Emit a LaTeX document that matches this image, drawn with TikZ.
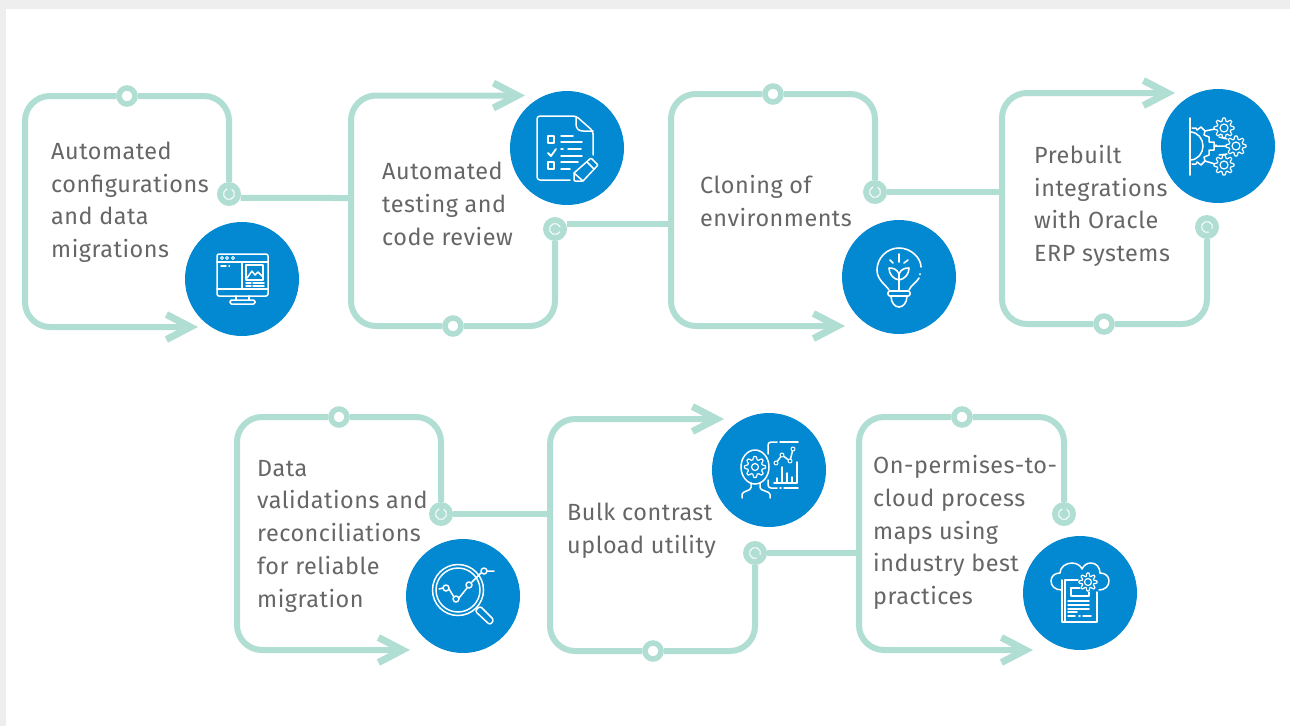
\documentclass[tikz,border=0pt]{standalone}
\usepackage{fontspec}
\usepackage{tikz}
\usetikzlibrary{arrows.meta,backgrounds}
\setmainfont{Fira Sans}[LetterSpace=2.2]
\definecolor{trackc}{HTML}{B0DED3}
\definecolor{bluec}{HTML}{0388D2}
\definecolor{textc}{HTML}{666666}
\definecolor{bandc}{HTML}{EEEEEE}
\tikzset{
  x=1pt,y=-1pt,
  track/.style={draw=trackc,line width=6pt,rounded corners=25pt},
  tracktip/.style={track,-{Straight Barb[length=24pt,width=25pt,line width=7pt]}},
  link/.style={draw=trackc,line width=6pt},
  midnode/.style={circle,draw=trackc,fill=white,line width=5.5pt,minimum size=16pt,inner sep=0pt},
  endnode/.style={circle,fill=trackc,minimum size=24pt,inner sep=0pt},
  iconcircle/.style={circle,fill=bluec,minimum size=114pt,inner sep=0pt},
  label/.style={anchor=base west,align=left,inner sep=0pt,text=textc,font=\fontsize{23.4}{32.7}\selectfont},
  ic/.style={draw=white,line width=1.5pt,line cap=round,line join=round},
}
\newcommand{\ringmark}[3]{\draw[white,line width=1pt] (#1,#2) ++(#3:5.5pt) arc[start angle=#3,delta angle=310,radius=5.5pt];}
\newcommand{\gearmark}[5]{% x y r teeth inner
  \draw[ic,line width=1.2pt] plot[samples=#4*8+1,domain=0:360,variable=\t] ({#1+(#3+1.5*min(1,max(-1,2.2*cos(#4*\t))))*cos(\t)},{#2+(#3+1.5*min(1,max(-1,2.2*cos(#4*\t))))*sin(\t)});
  \draw[ic,line width=1.2pt] (#1,#2) circle[radius=#5pt];}
\begin{document}
\begin{tikzpicture}
\useasboundingbox (0,0) rectangle (1290,726);
% nodes
\node[endnode] (t1) at (229,194) {};
\node[endnode] (t2) at (555,229) {};
\node[endnode] (t3) at (875,192) {};
\node[endnode] (t4) at (1207,227) {};
\node[endnode] (t5) at (441,514) {};
\node[endnode] (t6) at (755,553) {};
\node[endnode] (t7) at (1064,514) {};
\node[midnode] (n1) at (127,96) {};
\node[midnode] (n2) at (453,326) {};
\node[midnode] (n3) at (773,94) {};
\node[midnode] (n4) at (1104,324) {};
\node[midnode] (n5) at (339,417) {};
\node[midnode] (n6) at (653,651) {};
\node[midnode] (n7) at (962,417) {};
\node[iconcircle] (c1) at (242,279) {};
\node[iconcircle] (c2) at (567,148) {};
\node[iconcircle] (c3) at (899,277) {};
\node[iconcircle] (c4) at (1218,146) {};
\node[iconcircle] (c5) at (463,596) {};
\node[iconcircle] (c6) at (769,470) {};
\node[iconcircle] (c7) at (1080,593) {};
\coordinate (a1) at (198,327);
\coordinate (a2) at (525,95.5);
\coordinate (a3) at (845,326);
\coordinate (a4) at (1175,93);
\coordinate (a5) at (410,650);
\coordinate (a6) at (724,419);
\coordinate (a7) at (1033,650);
\coordinate (j1) at (351,198);
\coordinate (j2) at (671,224);
\coordinate (j3) at (1002,192);
\coordinate (j5) at (550,514);
\coordinate (j6) at (859,553);
% rings
\ringmark{229}{194}{110}
\ringmark{555}{229}{20}
\ringmark{875}{192}{110}
\ringmark{1207}{227}{-20}
\ringmark{441}{514}{110}
\ringmark{755}{553}{-20}
\ringmark{1064}{514}{110}
% texts
\node[label] (l1) at (51,257.5) {Automated\\configurations\\and data\\migrations};
\node[label] (l2) at (382,245) {Automated\\testing and\\code review};
\node[label] (l3) at (700,226) {Cloning of\\environments};
\node[label] (l4) at (1034,261.5) {Prebuilt\\integrations\\with Oracle\\ERP systems};
\node[label] (l5) at (257,607) {Data\\validations and\\reconciliations\\for reliable\\migration};
\node[label] (l6) at (567,553) {Bulk contrast\\upload utility};
\node[label] (l7) at (873,604.5) {On-permises-to-\\cloud process\\maps using\\industry best\\practices};
% tracks
\begin{pgfonlayer}{background}
\fill[bandc] (0,0) rectangle (1290,726);
\fill[white] (6,9) rectangle (1290,726);
\draw[link] (t1.-19) -- (j1);
\draw[link] (t2.-19 |- j2) -- (j2);
\draw[link] (t3) -- (j3);
\draw[link] (t5) -- (j5);
\draw[link] (t6) -- (j6);
\draw[track] (t1) |- (n1);
\draw[tracktip] (n1) -- (25,96) -- (25,327) -- (a1);
\draw[track] (t2) |- (n2);
\draw[tracktip] (n2) -- (351,326) -- (351,95.5) -- (a2);
\draw[track] (t3) |- (n3);
\draw[tracktip] (n3) -- (671,94) -- (671,326) -- (a3);
\draw[track] (t4) |- (n4);
\draw[tracktip] (n4) -- (1002,324) -- (1002,93) -- (a4);
\draw[track] (t5) |- (n5);
\draw[tracktip] (n5) -- (237,417) -- (237,650) -- (a5);
\draw[track] (t6) |- (n6);
\draw[tracktip] (n6) -- (550,651) -- (550,419) -- (a6);
\draw[track] (t7) |- (n7);
\draw[tracktip] (n7) -- (859,417) -- (859,650) -- (a7);
\end{pgfonlayer}
% icon 1: monitor
\begin{scope}[shift={(242,279)}]
\draw[ic,rounded corners=2pt] (-25,-25) rectangle (26,17);
\draw[ic] (-25,-17) -- (26,-17) (0,-17) -- (0,10) (-25,10) -- (26,10);
\foreach \xx in {-20,-15,-9} \draw[ic,line width=1pt] (\xx,-21) circle[radius=1.5pt];
\draw[ic] (-21,-13) -- (-16,-13) (-13,-13) -- (-12.5,-13);
\draw[ic] (4,-14) rectangle (21,1);
\draw[ic] (5,-1) -- (10,-8) -- (13,-4) -- (16,-7) -- (21,-2);
\draw[ic] (4,4) -- (9,4) (11,4) -- (22,4) (4,7) -- (9,7) (11,7) -- (22,7);
\draw[ic] (-6,17) -- (-6,21) (7,17) -- (7,21);
\draw[ic,rounded corners=1.5pt] (-12,21) rectangle (13,25);
\end{scope}
% icon 2: checklist
\begin{scope}[shift={(567,148)}]
\draw[ic,rounded corners=3pt] (26,7) -- (26,-17) -- (9,-32) -- (-30,-32) -- (-30,32) -- (3,32);
\draw[ic] (9,-31) -- (9,-24) .. controls (9,-19) and (12,-17) .. (16,-17) -- (26,-17);
\draw[ic] (-19,-12) rectangle (-13,-5) (-19,14) rectangle (-13,21);
\draw[ic,line width=1.8pt] (-19,5) -- (-16,8) -- (-11,1);
\draw[ic] (-6,-12) -- (6,-12) (-6,-6) -- (15,-6) (-6,1) -- (-4,1) (1,1) -- (14,1) (-6,8) -- (15,8) (-6,14) -- (11,14) (-6,21) -- (3,21);
\draw[ic,rounded corners=1pt] (7,33) -- (7,25) -- (24,10) -- (31,17) -- (16,33) -- cycle;
\draw[ic] (20,14) -- (27,21) (7,25) -- (16,33);
\end{scope}
% icon 3: bulb
\begin{scope}[shift={(899,277)}]
\draw[ic,line width=1.6pt] (-10,13) .. controls (-13,8) and (-22,3) .. (-22,-7) .. controls (-22,-19) and (-12,-29) .. (0,-29) .. controls (12,-29) and (22,-19) .. (22,-10);
\draw[ic,line width=1.6pt] (21,-3) -- (21,-2.5);
\draw[ic,line width=1.6pt] (20,1) .. controls (18,5) and (12,8) .. (10,13);
\draw[ic,line width=1.6pt,rounded corners=2pt] (-11,14) rectangle (11,19);
\draw[ic,line width=1.6pt] (-8,19) .. controls (-8,26) and (-4,30) .. (0,30) .. controls (4,30) and (8,26) .. (8,19);
\draw[ic,line width=1.6pt] (0,14) -- (0,-4);
\draw[ic,line width=1.6pt] (0,-3) .. controls (-2,-8) and (-6,-9) .. (-10,-9) .. controls (-10,-3) and (-6,2) .. (0,3);
\draw[ic,line width=1.6pt] (0,-3) .. controls (2,-8) and (6,-9) .. (10,-9) .. controls (10,-3) and (6,2) .. (0,3);
\draw[ic,line width=1.6pt] (0,-23) -- (0,-15) (-9,-17) -- (-6,-14) (9,-17) -- (5,-14);
\end{scope}
% icon 4: gears
\begin{scope}[shift={(1218,146)}]
\draw[ic] (-28,-28) -- (-28,29);
\draw[ic] (-28,-14) .. controls (-20,-14) and (-15,-7) .. (-15,0) .. controls (-15,7) and (-20,14) .. (-28,14);
\draw[ic] (-26,-18) -- (-22,-18) -- (-21,-16) -- (-17,-19) -- (-13,-15) -- (-14,-11) -- (-9,-9) -- (-9,-4) -- (-4,-4) -- (-4,4) -- (-9,4) -- (-9,9) -- (-14,11) -- (-13,15) -- (-17,19) -- (-21,16) -- (-22,18) -- (-26,18);
\draw[ic] (-2,-1) -- (-2,0);
\draw[ic] (-13,-15) -- (-3,-17) (-13,15) -- (-3,18) (-4,0) -- (8,0) (1,-9) -- (9,-7) (1,9) -- (9,8);
\fill[bluec] (6,-18) circle[radius=9pt] (18,0) circle[radius=9pt] (6,19) circle[radius=9pt];
\gearmark{6}{-18}{8.5}{8}{4}
\gearmark{18}{0}{8.5}{8}{4}
\gearmark{6}{19}{8.5}{8}{4}
\end{scope}
% icon 5: magnifier
\begin{scope}[shift={(463,596)}]
\draw[ic] (-5,-6) circle[radius=25.5pt] (-5,-6) circle[radius=22pt];
\draw[ic,rounded corners=2.5pt] (12,15) -- (17,10) -- (31,24) -- (27,29) -- cycle;
\draw[ic] (-24,-7) -- (-20,-8) (-14,-7) -- (-9,1) (-4,2) -- (4,-8) (9,-14) -- (18,-23) (24,-25) -- (31,-25);
\foreach \xx/\yy in {-17/-8,-7/3,6/-11,21/-25} \draw[ic] (\xx,\yy) circle[radius=3pt];
\end{scope}
% icon 6: head and chart
\begin{scope}[shift={(769,470)}]
\draw[ic] (-14,-3) ellipse[x radius=14pt,y radius=17pt];
\gearmark{-14}{-3}{9}{8}{3.5}
\draw[ic,rounded corners=1.5pt] (-18,13) -- (-18,19) -- (-27,23) -- (-27,28);
\draw[ic,rounded corners=1.5pt] (-9,13) -- (-9,19) -- (1,23) -- (1,28);
\draw[ic,rounded corners=3pt] (8,-28) -- (-1,-28) -- (-1,-16);
\draw[ic,rounded corners=3pt] (-1,10) -- (-1,18) -- (8,18);
\draw[ic] (11,-28) -- (29,-28) (11,18) -- (12,18) (15,18) -- (29,18);
\draw[ic] (7,-7) -- (13,-15) -- (21,-9) -- (24,-21);
\foreach \xx/\yy in {7/-7,13/-15,21/-9,24/-21} \draw[ic,fill=bluec,line width=1pt] (\xx,\yy) circle[radius=2pt];
\draw[ic] (28,-8) -- (28,13) -- (5,13);
\draw[ic] (8,13) -- (8,8) (13,13) -- (13,-3) (18,13) -- (18,3) (23,13) -- (23,7);
\end{scope}
% icon 7: cloud document
\begin{scope}[shift={(1080,593)}]
\draw[ic] (-18,-3) .. controls (-25,-3) and (-29,-7) .. (-29,-12) .. controls (-29,-17) and (-25,-20) .. (-20,-20) .. controls (-20,-26) and (-14,-30) .. (-8,-30) .. controls (-3,-30) and (1,-27) .. (2,-24) .. controls (4,-28) and (7,-30) .. (11,-30) .. controls (16,-30) and (20,-26) .. (20,-20) .. controls (25,-20) and (29,-17) .. (29,-12) .. controls (29,-7) and (25,-3) .. (19,-3);
\draw[ic] (-18,-13) -- (-18,29) -- (17,29) -- (17,-1);
\draw[ic] (-15,-2) -- (-15,-13) -- (0,-13) (-15,-2) -- (-15,29);
\draw[ic] (-9,-5) rectangle (9,3);
\draw[ic] (-12,8) -- (9,8) (-12,12) -- (9,12) (-12,16) -- (9,16) (-12,19) -- (-3,19) (-12,23) -- (-5,23) (-1,23) -- (0,23) (3,23) -- (11,23);
\fill[bluec] (8,-11) circle[radius=10pt];
\gearmark{8}{-11}{7.5}{8}{3.5}
\end{scope}
\end{tikzpicture}
\end{document}
